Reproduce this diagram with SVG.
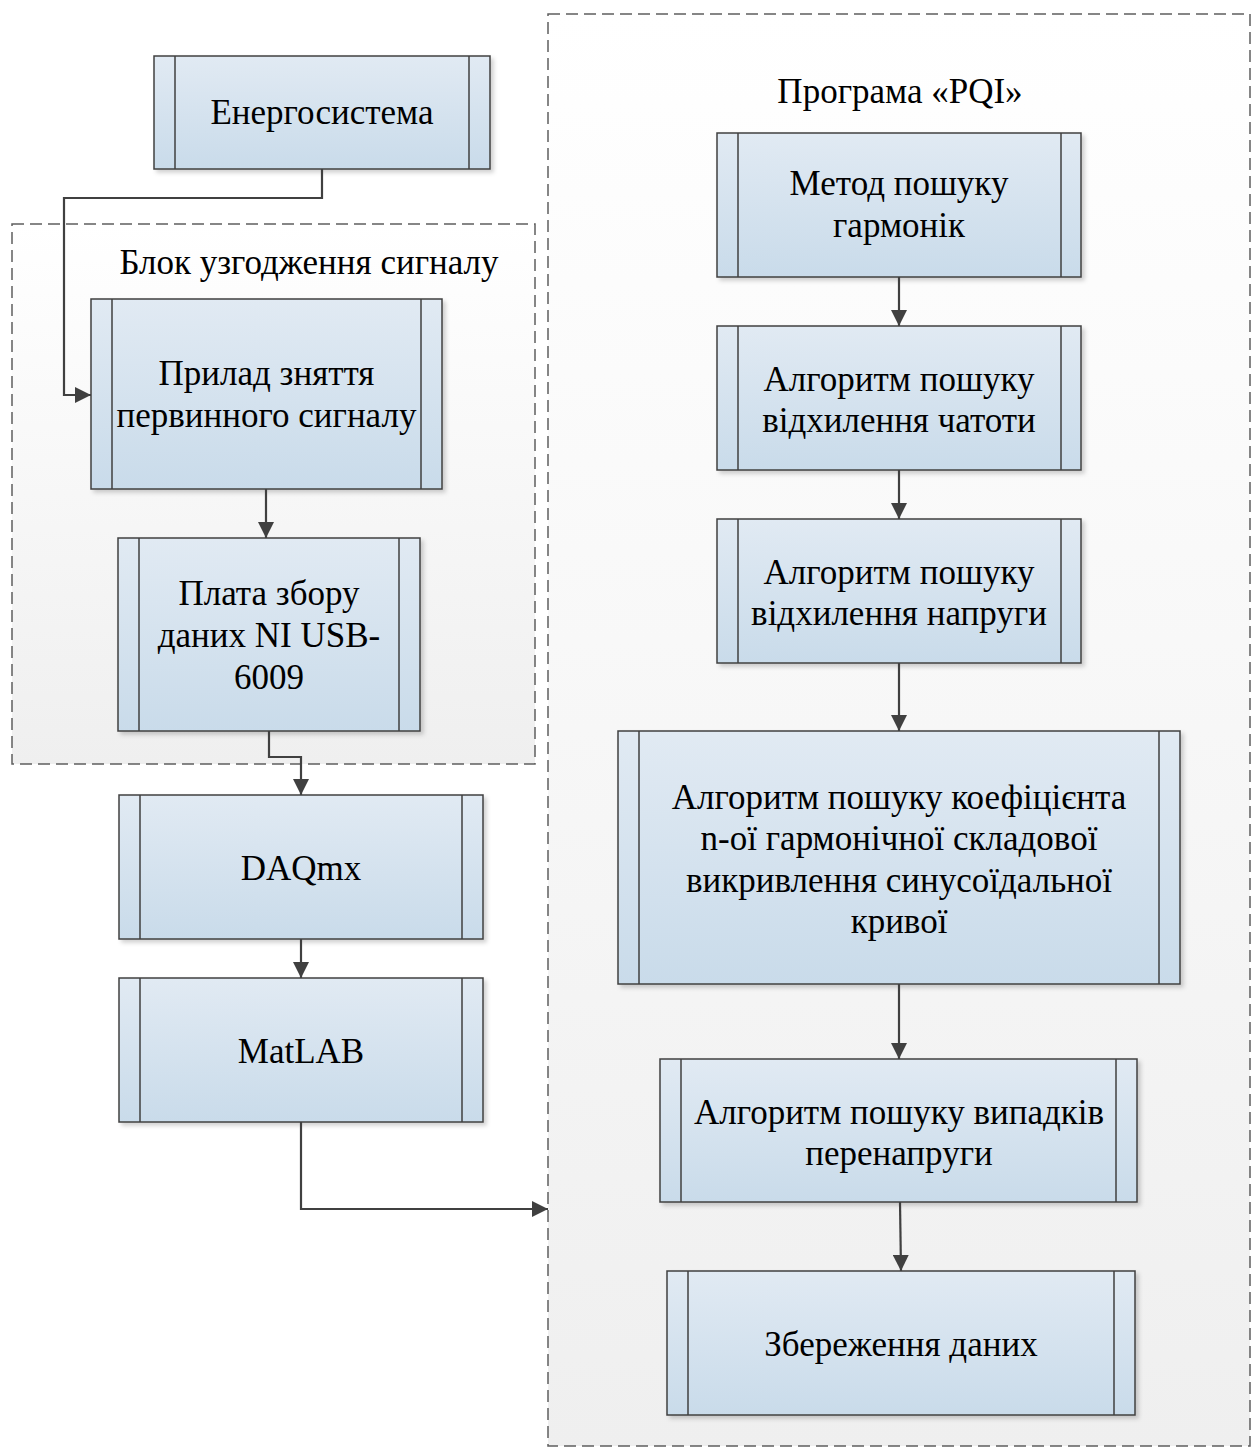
<svg xmlns="http://www.w3.org/2000/svg" width="1257" height="1448" viewBox="0 0 1257 1448">
<defs>
<linearGradient id="gNode" x1="0" y1="0" x2="0" y2="1">
<stop offset="0" stop-color="#e1eaf3"/>
<stop offset="1" stop-color="#c9dbea"/>
</linearGradient>
<linearGradient id="gCont" x1="0" y1="0" x2="0" y2="1">
<stop offset="0" stop-color="#ffffff"/>
<stop offset="1" stop-color="#efefef"/>
</linearGradient>
<filter id="sh" x="-10%" y="-10%" width="120%" height="120%">
<feDropShadow dx="3" dy="3" stdDeviation="2" flood-color="#000" flood-opacity="0.18"/>
</filter>
<marker id="arr" viewBox="0 0 16 16" refX="16" refY="8" markerWidth="16" markerHeight="16" markerUnits="userSpaceOnUse" orient="auto">
<path d="M0,0 L16,8 L0,16 Z" fill="#404040"/>
</marker>
</defs>
<style>
.box{fill:url(#gNode);stroke:#404040;stroke-width:1.5;filter:url(#sh)}
.bar{stroke:#404040;stroke-width:1.5;fill:none}
.cont{fill:url(#gCont);stroke:#5f5f5f;stroke-width:1.5;stroke-dasharray:12 6}
.t{font-family:"Liberation Serif","Times New Roman",serif;font-size:35px;fill:#000;text-anchor:middle}
.c{fill:none;stroke:#404040;stroke-width:2.2}
</style>

<g id="container-pqi">
<rect class="cont" x="548" y="14" width="702" height="1432"/>
<text class="t" x="900" y="103">Програма «PQI»</text>
</g>

<g id="container-block">
<rect class="cont" x="12" y="224" width="523" height="540"/>
<text class="t" x="309" y="274">Блок узгодження сигналу</text>
</g>

<g id="node-energo">
<rect class="box" x="154" y="56" width="336" height="113"/>
<path class="bar" d="M175,56V169M469,56V169"/>
<text class="t" x="322" y="124">Енергосистема</text>
</g>

<g id="node-pryl">
<rect class="box" x="91" y="299" width="351" height="190"/>
<path class="bar" d="M112,299V489M421,299V489"/>
<text class="t" x="266.5" y="385">Прилад зняття</text>
<text class="t" x="266.5" y="427">первинного сигналу</text>
</g>

<g id="node-plata">
<rect class="box" x="118" y="538" width="302" height="193"/>
<path class="bar" d="M139,538V731M399,538V731"/>
<text class="t" x="269" y="605">Плата збору</text>
<text class="t" x="269" y="647">даних NI USB-</text>
<text class="t" x="269" y="689">6009</text>
</g>

<g id="node-daqmx">
<rect class="box" x="119" y="795" width="364" height="144"/>
<path class="bar" d="M140,795V939M462,795V939"/>
<text class="t" x="301" y="880">DAQmx</text>
</g>

<g id="node-matlab">
<rect class="box" x="119" y="978" width="364" height="144"/>
<path class="bar" d="M140,978V1122M462,978V1122"/>
<text class="t" x="301" y="1063">MatLAB</text>
</g>

<g id="node-metod">
<rect class="box" x="717" y="133" width="364" height="144"/>
<path class="bar" d="M738,133V277M1061,133V277"/>
<text class="t" x="899" y="195">Метод пошуку</text>
<text class="t" x="899" y="237">гармонік</text>
</g>

<g id="node-chastota">
<rect class="box" x="717" y="326" width="364" height="144"/>
<path class="bar" d="M738,326V470M1061,326V470"/>
<text class="t" x="899" y="391">Алгоритм пошуку</text>
<text class="t" x="899" y="432">відхилення чатоти</text>
</g>

<g id="node-napruga">
<rect class="box" x="717" y="519" width="364" height="144"/>
<path class="bar" d="M738,519V663M1061,519V663"/>
<text class="t" x="899" y="584">Алгоритм пошуку</text>
<text class="t" x="899" y="625">відхилення напруги</text>
</g>

<g id="node-koef">
<rect class="box" x="618" y="731" width="562" height="253"/>
<path class="bar" d="M639,731V984M1159,731V984"/>
<text class="t" x="899" y="809">Алгоритм пошуку коефіцієнта</text>
<text class="t" x="899" y="850">n-ої гармонічної складової</text>
<text class="t" x="899" y="892">викривлення синусоїдальної</text>
<text class="t" x="899" y="933">кривої</text>
</g>

<g id="node-perenapruga">
<rect class="box" x="660" y="1059" width="477" height="143"/>
<path class="bar" d="M681,1059V1202M1116,1059V1202"/>
<text class="t" x="899" y="1124">Алгоритм пошуку випадків</text>
<text class="t" x="899" y="1165">перенапруги</text>
</g>

<g id="node-zberezhennia">
<rect class="box" x="667" y="1271" width="468" height="144"/>
<path class="bar" d="M688,1271V1415M1114,1271V1415"/>
<text class="t" x="901" y="1356">Збереження даних</text>
</g>

<g id="connectors">
<path class="c" d="M322,169V198H64V395H91" marker-end="url(#arr)"/>
<path class="c" d="M266,489V538" marker-end="url(#arr)"/>
<path class="c" d="M269,731V757H301V795" marker-end="url(#arr)"/>
<path class="c" d="M301,939V978" marker-end="url(#arr)"/>
<path class="c" d="M301,1122V1209H548" marker-end="url(#arr)"/>
<path class="c" d="M899,277V326" marker-end="url(#arr)"/>
<path class="c" d="M899,470V519" marker-end="url(#arr)"/>
<path class="c" d="M899,663V731" marker-end="url(#arr)"/>
<path class="c" d="M899,984V1059" marker-end="url(#arr)"/>
<path class="c" d="M900,1202L901,1271" marker-end="url(#arr)"/>
</g>
</svg>
